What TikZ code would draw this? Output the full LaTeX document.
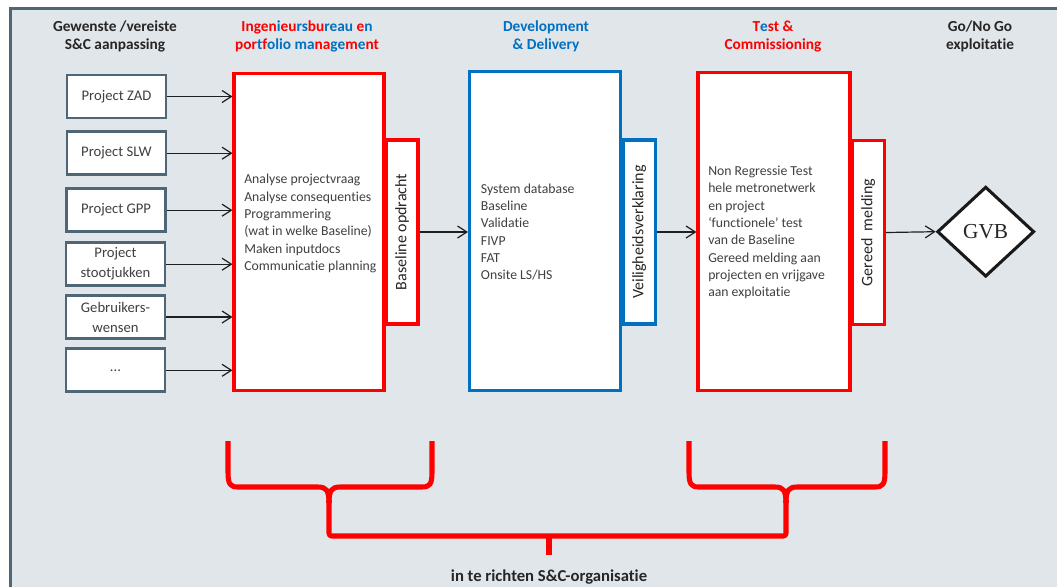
\documentclass[tikz,border=0pt]{standalone}
\usepackage{fontspec}
\usepackage{graphicx}
\setmainfont{Carlito}[Ligatures={NoCommon,TeX}]
\newfontfamily\gvbfont{Liberation Serif}
\usetikzlibrary{arrows.meta,shapes.geometric}
\definecolor{frameclr}{HTML}{4E6676}
\definecolor{bgclr}{HTML}{E1E6EA}
\definecolor{redclr}{HTML}{FF0000}
\definecolor{blueclr}{HTML}{0070C0}
\definecolor{txtclr}{HTML}{404040}
\definecolor{hdclr}{HTML}{262626}
\newcommand\hdR[1]{\textcolor{redclr}{#1}}
\newcommand\hdB[1]{\textcolor{blueclr}{#1}}

\begin{document}
\begin{tikzpicture}[x=0.75pt,y=-0.75pt,
  header/.style={font=\fontsize{11.5}{13.5}\selectfont\bfseries, text=hdclr, align=center, inner sep=0pt},
  projbox/.style={draw=frameclr, line width=2pt, fill=white, minimum width=99*0.75pt,
    minimum height=43*0.75pt, inner sep=0pt, align=center, text=txtclr,
    font=\fontsize{11}{15}\selectfont},
  stage/.style={line width=2.3pt, fill=white, inner sep=0pt},
  tabbox/.style={line width=2.3pt, fill=white, inner sep=0pt, minimum width=32*0.75pt,
    minimum height=184*0.75pt, text=hdclr, font=\fontsize{12}{14}\selectfont},
  body/.style={anchor=west, align=left, text=txtclr, font=\fontsize{10.3}{13}\selectfont, inner sep=0pt},
  arr/.style={draw=black!88, line width=0.9pt, -{Straight Barb[length=7pt,width=9pt]}},
  brace/.style={draw=redclr, line width=3.8pt, line join=round},
]
\useasboundingbox (0,0) rectangle (1057,587);

% canvas and frame
\fill[bgclr] (10,9) rectangle (1057,587);
\draw[frameclr, line width=2.3pt] (10.3,587) -- (10.3,8.7) -- (1057,8.7);

% column headers
\node[header] (h1) at (115,36) {Gewenste /vereiste\\S\&C aanpassing};
\node[header] (h2) at (307,36) {\hdR{Ingen}\hdB{i}\hdR{eu}\hdB{rs}\hdR{bu}\hdB{reau} \hdR{e}\hdB{n}\\
  \hdR{por}\hdB{t}\hdR{f}\hdB{olio} \hdB{ma}\hdR{na}\hdB{ge}\hdR{m}\hdB{e}\hdR{nt}};
\node[header, text=blueclr] (h3) at (546,36) {Development\\\& Delivery};
\node[header, text=redclr] (h4) at (773,36) {\hdR{T}\hdB{e}\hdR{st \&}\\Commissioning};
\node[header] (h5) at (980,36) {Go/No Go\\exploitatie};

% input projects
\node[projbox] (p1) at (116.5,96.5) {Project ZAD};
\node[projbox] (p2) at (116.5,153.2) {Project SLW};
\node[projbox] (p3) at (116,210.2) {Project GPP};
\node[projbox] (p4) at (115.5,264.2) {Project\\stootjukken};
\node[projbox] (p5) at (115.5,317) {Gebruikers-\\wensen};
\node[projbox] (p6) at (115.5,370.3) {...};

% stages
\node[stage, draw=redclr, minimum width=150*0.75pt, minimum height=317*0.75pt] (s1) at (309,232.2) {};
\node[tabbox, draw=redclr] (b1) at (402,232) {\rotatebox{90}{Baseline opdracht}};
\node[body] (t1) at (244,223.5) {Analyse projectvraag\\Analyse consequenties\\Programmering\\(wat in welke Baseline)\\Maken inputdocs\\Communicatie planning};

\node[stage, draw=blueclr, minimum width=151*0.75pt, minimum height=319*0.75pt] (s2) at (545,231) {};
\node[tabbox, draw=blueclr] (b2) at (639.2,232) {\rotatebox{90}{Veiligheidsverklaring}};
\node[body] (t2) at (480.7,232) {System database\\Baseline\\Validatie\\FIVP\\FAT\\Onsite LS/HS};

\node[stage, draw=redclr, minimum width=152*0.75pt, minimum height=318*0.75pt] (s3) at (774,231.3) {};
\node[tabbox, draw=redclr] (b3) at (868.3,232.5) {\rotatebox{90}{Gereed\ \ melding}};
\node[body] (t3) at (708,232.7) {Non Regressie Test\\hele metronetwerk\\en project\\‘functionele’ test\\van de Baseline\\Gereed melding aan\\projecten en vrijgave\\aan exploitatie};

\node[diamond, draw=black!90, line width=2.3pt, fill=white, inner sep=0pt,
  minimum width=97*0.75pt, minimum height=90*0.75pt, font=\gvbfont\fontsize{16}{18}\selectfont,
  text=black!85] (gvb) at (985.7,231.7) {GVB};

% connectors
\foreach \p in {p1,p2,p3,p4,p5,p6}
  \draw[arr] (\p.east) -- (\p.east -| s1.west);
\draw[arr] (b1.east) -- (b1.east -| s2.west);
\draw[arr] (b2.east) -- (b2.east -| s3.west);
\draw[arr] (b3.east) -- (gvb.west);

% braces grouping the stages
\draw[brace] (228,441) -- (228,472) .. controls (228,484) and (230,487) .. (238,487) -- (318,487)
  .. controls (326,487) and (329,490) .. (329,503);
\draw[brace] (432,441) -- (432,472) .. controls (432,484) and (430,487) .. (422,487) -- (340,487)
  .. controls (332,487) and (329,490) .. (329,503);
\draw[brace] (689,441) -- (689,472) .. controls (689,484) and (691,487) .. (699,487) -- (775,487)
  .. controls (783,487) and (786,490) .. (786,503);
\draw[brace] (885,441) -- (885,472) .. controls (885,484) and (883,487) .. (875,487) -- (797,487)
  .. controls (789,487) and (786,490) .. (786,503);
\draw[brace, rounded corners=2pt] (329,500) -- (329,536) -- (786,536) -- (786,500);
\draw[brace] (549,536) -- (549,555);

\node[header, font=\fontsize{12.5}{14}\selectfont\bfseries] (org) at (549,577) {in te richten S\&C-organisatie};
\end{tikzpicture}
\end{document}
